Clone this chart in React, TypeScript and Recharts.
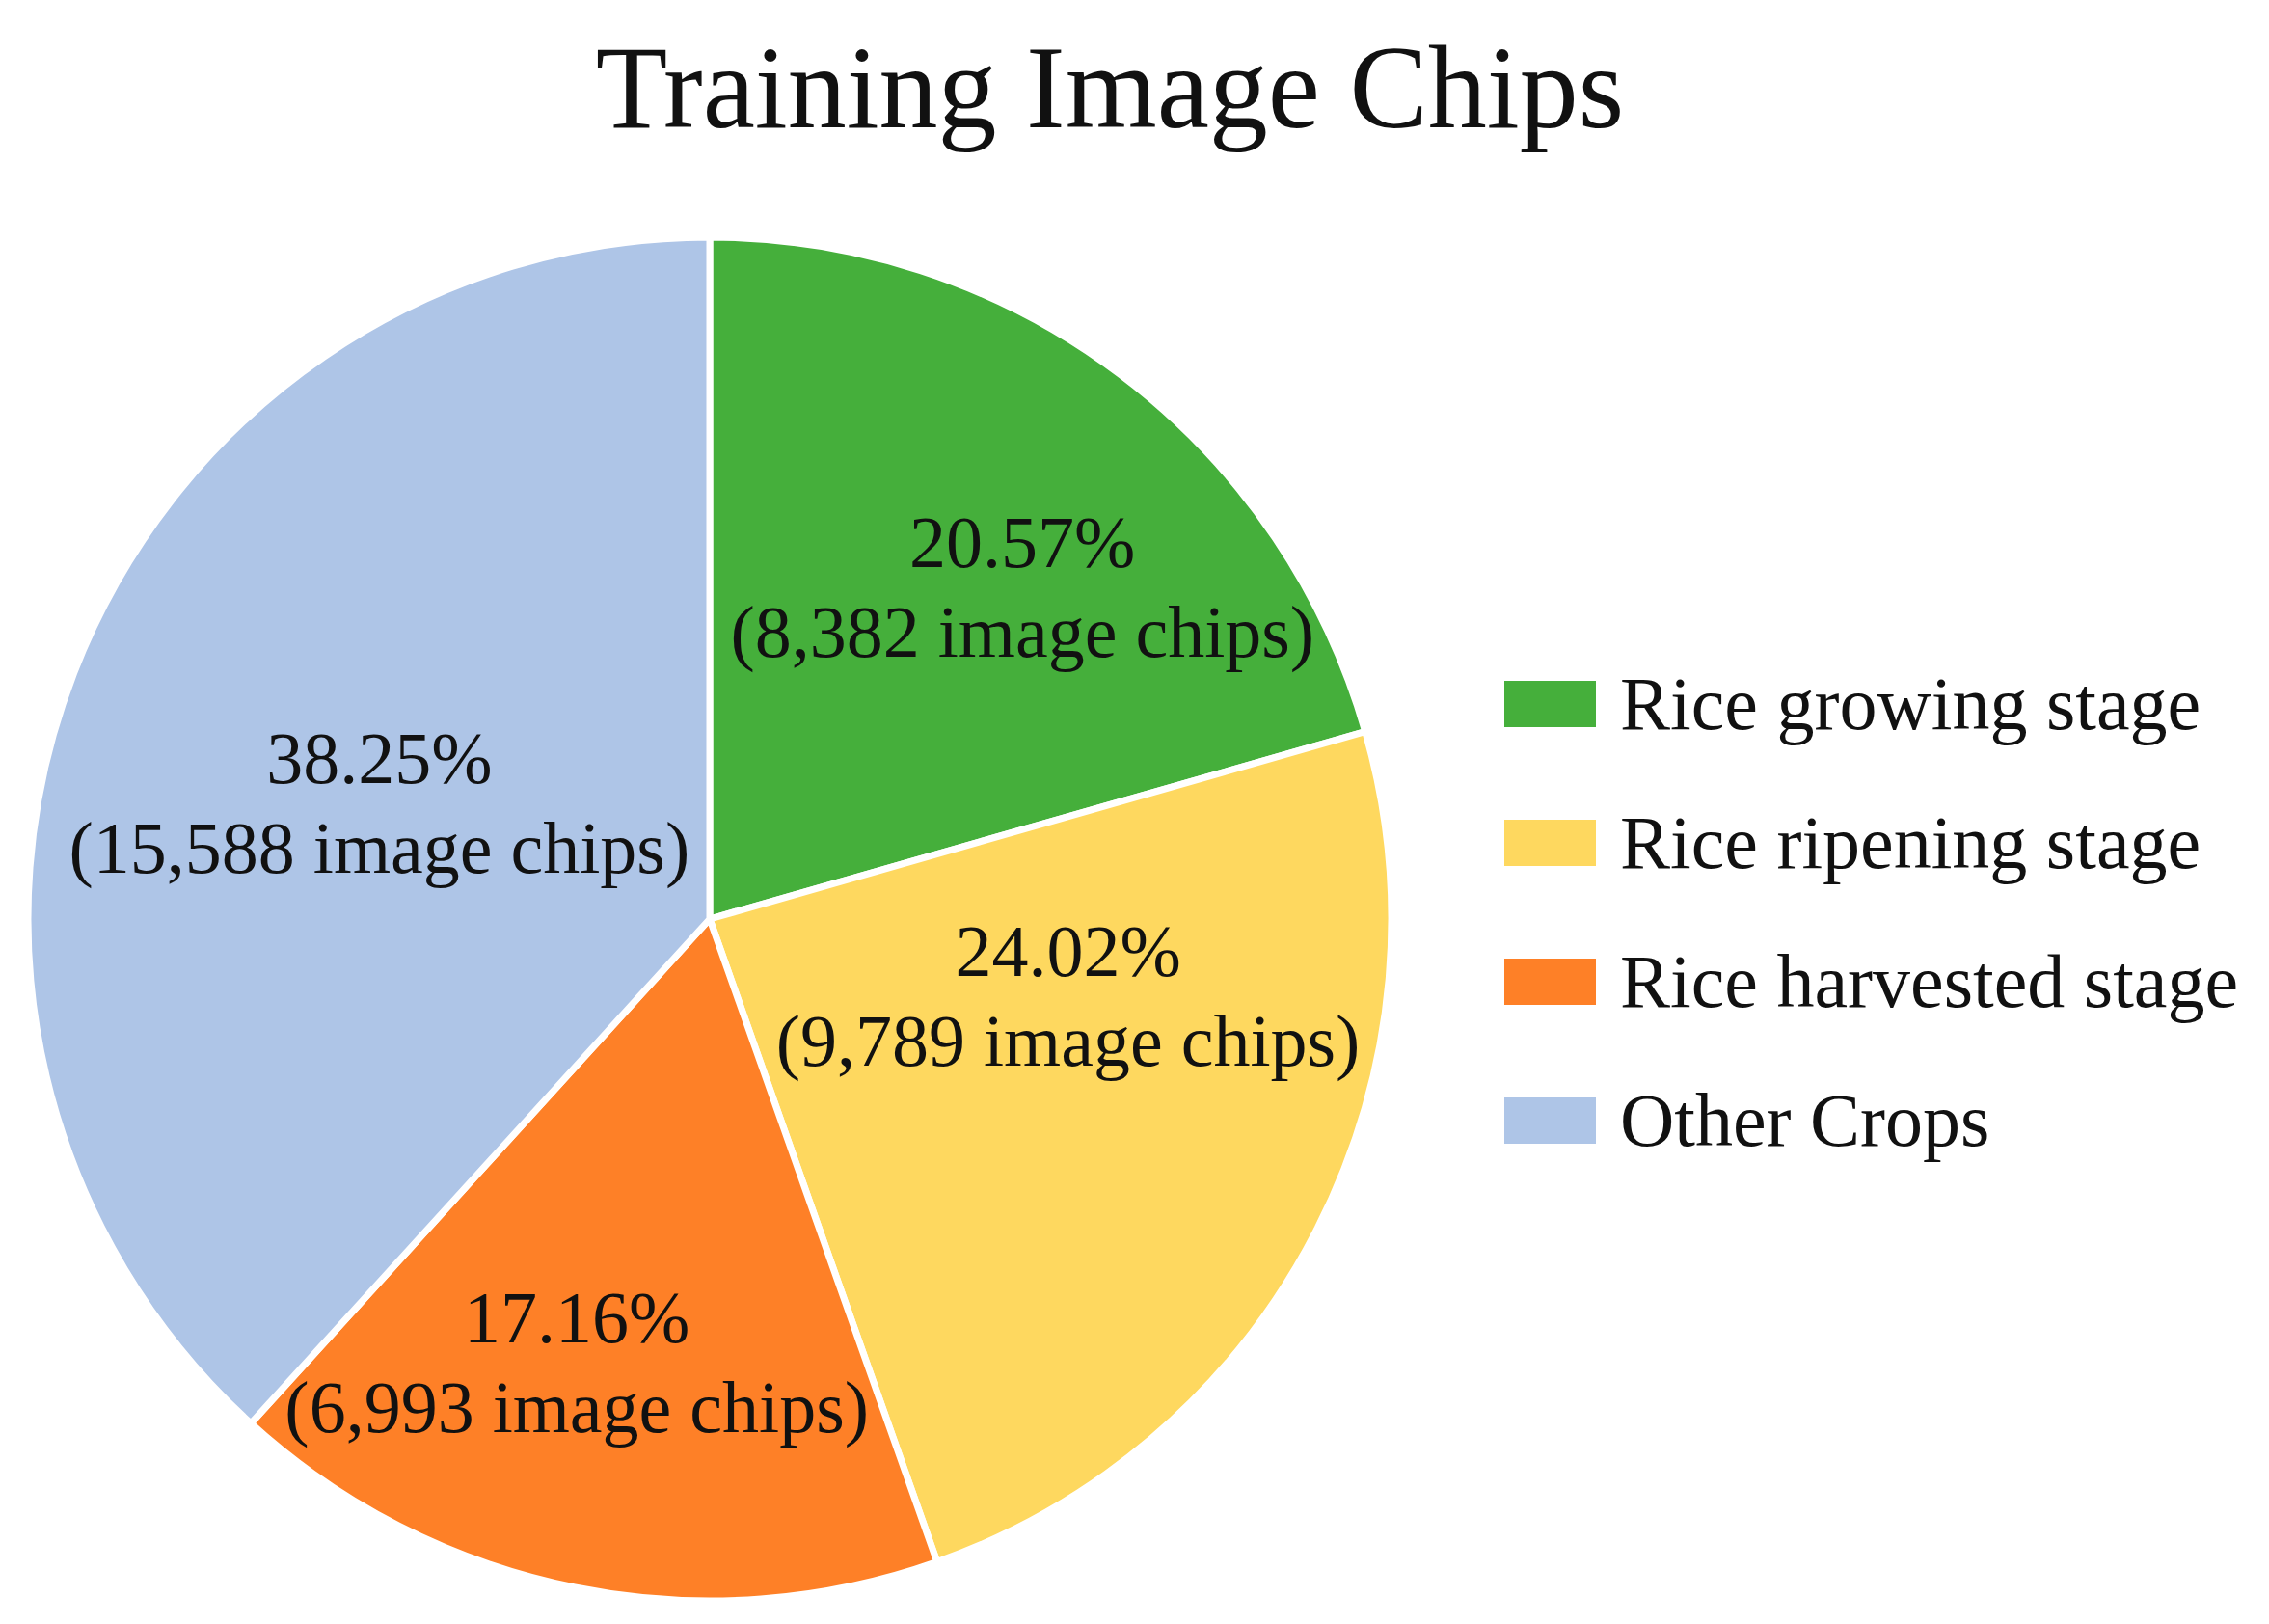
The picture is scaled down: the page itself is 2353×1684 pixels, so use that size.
import { PieChart, Pie, Cell, Legend } from "recharts";

const CATEGORIES = ["Rice growing stage", "Rice ripening stage", "Rice harvested stage", "Other Crops"];
const CHIPS = [8382, 9789, 6993, 15588];
const COLORS = ["#45AF3B", "#FED85F", "#FE8027", "#AEC5E7"];

// Excel "best fit" label spots: turn (deg, clockwise) off the mid angle + fraction of radius
const LABEL_SPOT = [
  { turn: 7, frac: 0.66 },
  { turn: -14, frac: 0.54 },
  { turn: 5, frac: 0.69 },
  { turn: -3, frac: 0.51 },
];

const FONT = '"Liberation Serif", "Times New Roman", serif';
const RAD = Math.PI / 180;

const data = CATEGORIES.map((name, i) => ({ name, value: CHIPS[i] }));

// eslint-disable-next-line @typescript-eslint/no-explicit-any
function renderLabel(props: any) {
  const { cx, cy, midAngle, outerRadius, index, percent, value } = props;
  const spot = LABEL_SPOT[index];
  const a = (midAngle - spot.turn) * RAD;
  const r = outerRadius * spot.frac;
  const x = cx + r * Math.cos(a);
  const y = cy - r * Math.sin(a) - 9;
  return (
    <text x={x} y={y} textAnchor="middle" fontFamily={FONT} fontSize={76} fill="#111">
      <tspan x={x} y={y - 46} dominantBaseline="central">{(percent * 100).toFixed(2)}%</tspan>
      <tspan x={x} y={y + 47} dominantBaseline="central">({value.toLocaleString("en-US")} image chips)</tspan>
    </text>
  );
}

// eslint-disable-next-line @typescript-eslint/no-explicit-any
function LegendBox({ payload }: any) {
  const items = [...(payload ?? [])].sort(
    (a: any, b: any) => CATEGORIES.indexOf(a.value) - CATEGORIES.indexOf(b.value)
  );
  return (
    <div style={{ fontFamily: FONT, fontSize: 78, color: "#111" }}>
      {items.map((p: any) => (
        <div key={p.value} style={{ display: "flex", alignItems: "center", height: 144 }}>
          <span style={{ display: "inline-block", width: 95, height: 48, background: p.color, marginRight: 25 }} />
          <span style={{ lineHeight: 1, whiteSpace: "nowrap" }}>{p.value}</span>
        </div>
      ))}
    </div>
  );
}

export default function App() {
  return (
    <div style={{ position: "relative", width: 2353, height: 1684, background: "#fff" }}>
      <style>{`body{margin:0}`}</style>
      <div
        style={{
          position: "absolute", left: 0, top: 30, width: 2302, textAlign: "center",
          fontFamily: FONT, fontSize: 122, lineHeight: 1, color: "#111",
        }}
      >
        Training Image Chips
      </div>
      <PieChart width={2353} height={1684}>
        <Pie
          data={data}
          dataKey="value"
          nameKey="name"
          cx={731}
          cy={948}
          outerRadius={707}
          startAngle={90}
          endAngle={-270}
          stroke="#fff"
          strokeWidth={7}
          label={renderLabel}
          labelLine={false}
          isAnimationActive={false}
        >
          {data.map((d, i) => (
            <Cell key={d.name} fill={COLORS[i]} />
          ))}
        </Pie>
        <Legend
          layout="vertical"
          content={<LegendBox />}
          wrapperStyle={{ position: "absolute", left: 1560, top: 658, width: 780 }}
        />
      </PieChart>
    </div>
  );
}
